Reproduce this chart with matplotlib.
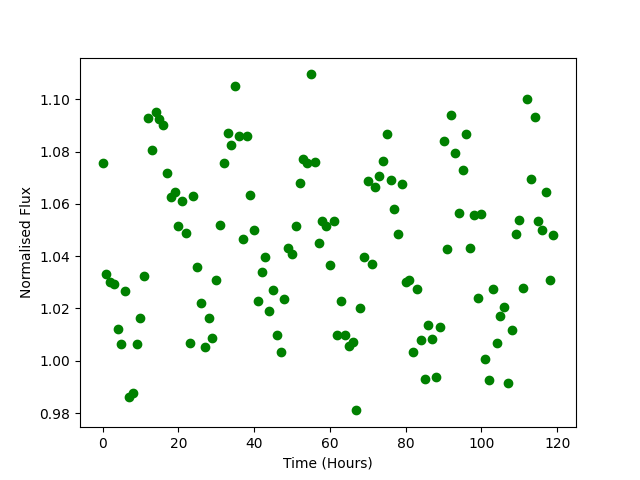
import matplotlib
matplotlib.use("Agg")
import matplotlib.pyplot as plt
import numpy as np

# one reading per hour
hours = np.arange(120)
flux = [
    1.0755, 1.033, 1.030, 1.0295, 1.012, 1.0065, 1.0265, 0.986, 0.9875, 1.0065,
    1.0165, 1.0325, 1.093, 1.0805, 1.095, 1.0925, 1.090, 1.0717, 1.0625, 1.0645,
    1.0515, 1.061, 1.049, 1.0067, 1.063, 1.036, 1.022, 1.0052, 1.0163, 1.0087,
    1.031, 1.052, 1.0755, 1.087, 1.0825, 1.105, 1.0858, 1.0465, 1.086, 1.0633,
    1.050, 1.023, 1.034, 1.0395, 1.019, 1.027, 1.010, 1.0033, 1.0235, 1.043,
    1.041, 1.0515, 1.068, 1.077, 1.0755, 1.1095, 1.076, 1.045, 1.0533, 1.0515,
    1.0365, 1.0533, 1.010, 1.023, 1.0098, 1.0056, 1.0072, 0.981, 1.020, 1.0395,
    1.0686, 1.037, 1.0665, 1.0705, 1.0763, 1.0866, 1.069, 1.058, 1.0485, 1.0675,
    1.030, 1.031, 1.0033, 1.0274, 1.008, 0.993, 1.0136, 1.0083, 0.9938, 1.013,
    1.084, 1.0427, 1.094, 1.0795, 1.0565, 1.073, 1.0866, 1.043, 1.0556, 1.024,
    1.056, 1.0006, 0.9926, 1.0274, 1.0067, 1.017, 1.0205, 0.9915, 1.0117, 1.0484,
    1.0537, 1.028, 1.100, 1.0694, 1.0931, 1.0533, 1.050, 1.0645, 1.031, 1.048,
]

fig = plt.figure(figsize=(6.4, 4.8), dpi=100)
plt.plot(hours, flux, 'go')
plt.xlabel("Time (Hours)")
plt.ylabel("Normalised Flux")
plt.savefig("out.png")
